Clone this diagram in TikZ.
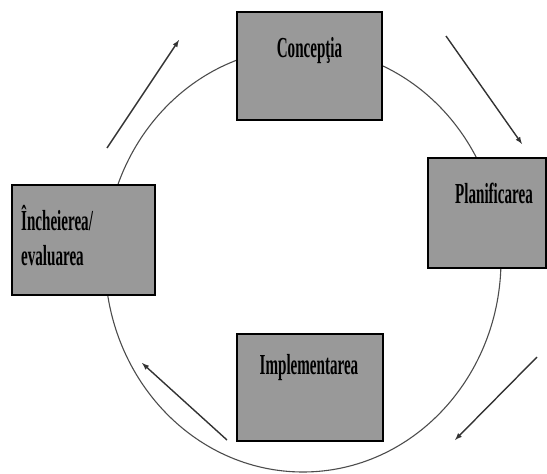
\documentclass[tikz,border=0pt]{standalone}
\usepackage{fontspec}
\usetikzlibrary{calc}
\newfontfamily\stagefont{Liberation Serif}[FakeStretch=0.52]

\begin{document}
\begin{tikzpicture}[x=1pt,y=-1pt,
    stage/.style={draw=black,line width=1.2pt,fill=black!40,inner sep=0pt},
    stagetext/.style={font=\stagefont\bfseries\fontsize{29}{35}\selectfont,inner sep=0pt},
    flow/.style={-latex,line width=1.4pt,black!80}]
    \useasboundingbox (0,0) rectangle (547,474);

    \draw[line width=1.1pt,black!70] (303,260) ellipse [x radius=198,y radius=212];

    \node[stage,minimum width=145,minimum height=108] (concept) at (309.5,66) {};
    \node[stage,minimum width=118,minimum height=110] (plan) at (487,213) {};
    \node[stage,minimum width=146,minimum height=107] (impl) at (310,387.5) {};
    \node[stage,minimum width=143,minimum height=110] (close) at (83.5,240) {};

    \node[stagetext,anchor=base] (concepttext) at (309.5,57) {Concepţia};
    \node[stagetext,anchor=base] (plantext) at (494,203) {Planificarea};
    \node[stagetext,anchor=base] (impltext) at (309,374) {Implementarea};
    \node[stagetext,anchor=base west] (closetext) at (21,230) {Încheierea/};
    \node[stagetext,anchor=base west] (closetextb) at (21,265) {evaluarea};

    \coordinate (tl0) at (107,148); \coordinate (tl1) at (179,40);
    \coordinate (tr0) at (446,36);  \coordinate (tr1) at (522,144);
    \coordinate (br0) at (537,357); \coordinate (br1) at (455,440);
    \coordinate (bl0) at (227,440); \coordinate (bl1) at (142,363);

    \draw[flow] (tl0) -- (tl1);
    \draw[flow] (tr0) -- (tr1);
    \draw[flow] (br0) -- (br1);
    \draw[flow] (bl0) -- (bl1);
\end{tikzpicture}
\end{document}
